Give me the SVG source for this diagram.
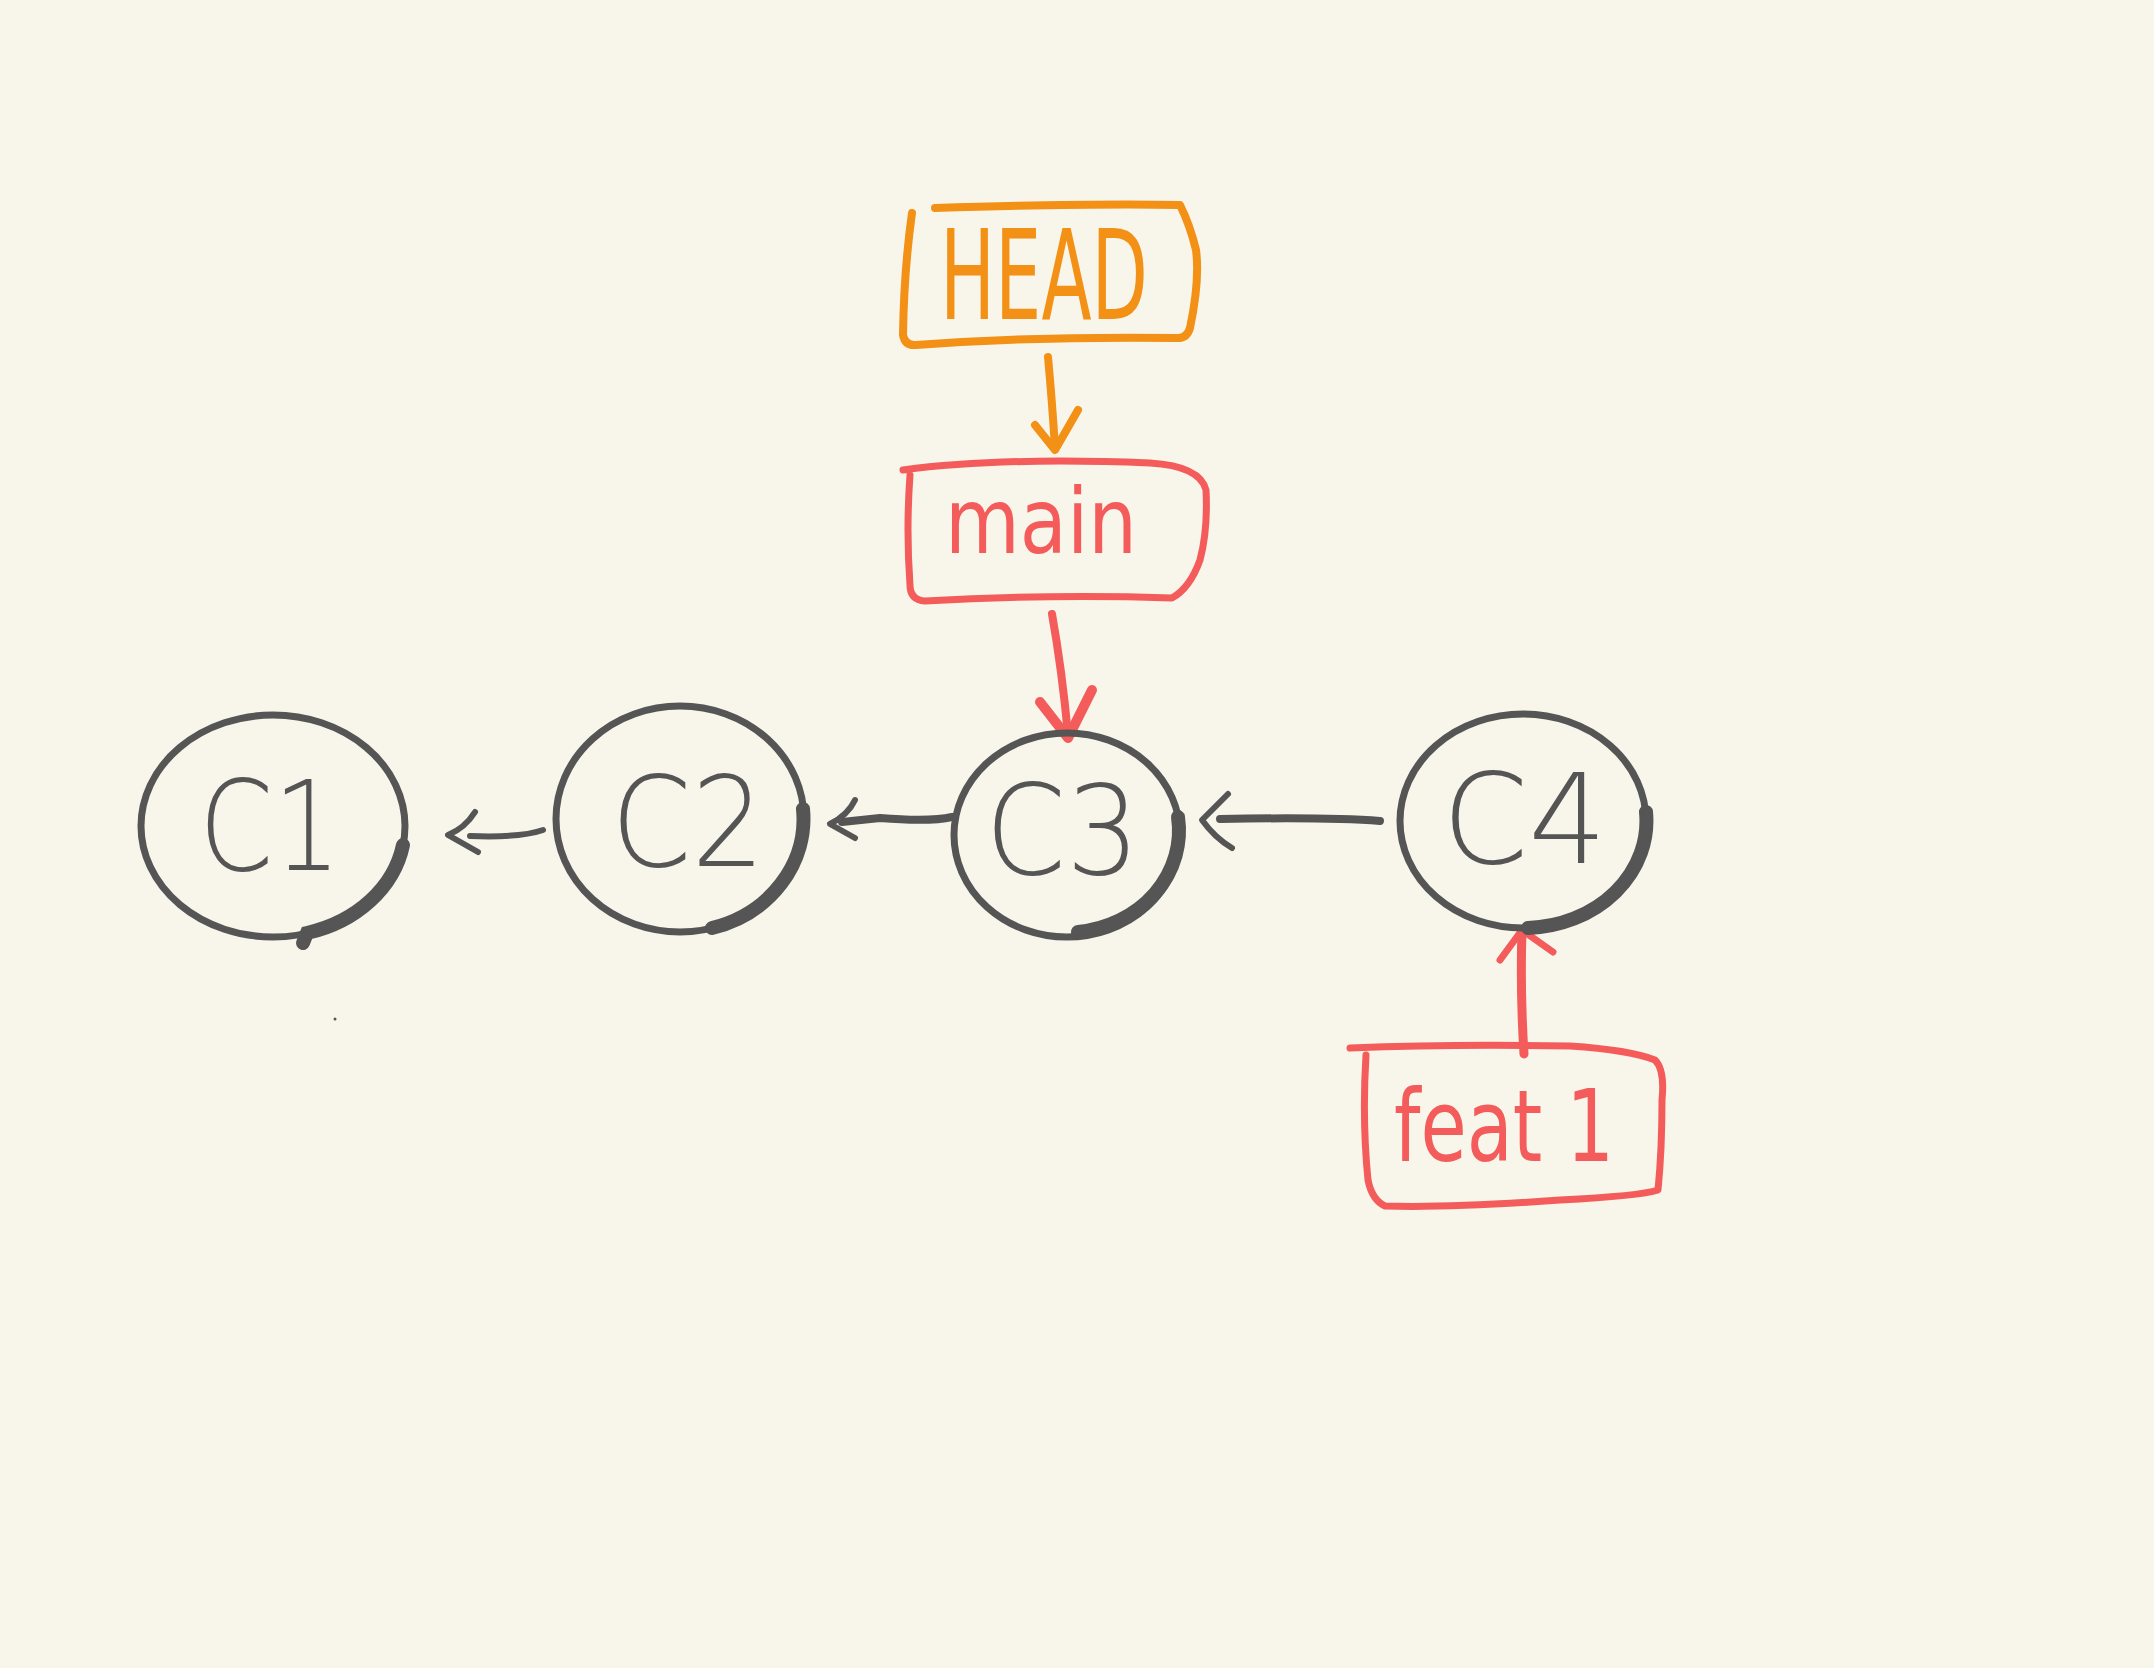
<svg xmlns="http://www.w3.org/2000/svg" width="2154" height="1668" viewBox="0 0 2154 1668">
<style>
.bg{fill:#F8F6EA}
.node{fill:none;stroke:#555555;stroke-width:7;stroke-linecap:round}
.heavy{fill:none;stroke:#555555;stroke-width:14;stroke-linecap:round}
.ntext{font-family:"DejaVu Sans","Liberation Sans",sans-serif;font-size:125px;fill:#555555;font-weight:300}
.orange{fill:none;stroke:#F39016;stroke-width:8;stroke-linecap:round;stroke-linejoin:round}
.red{fill:none;stroke:#F35C5A;stroke-width:7;stroke-linecap:round;stroke-linejoin:round}
.otext{font-family:"DejaVu Sans","Liberation Sans",sans-serif;font-size:125px;fill:#F39016}
.rtext{font-family:"DejaVu Sans","Liberation Sans",sans-serif;font-size:90px;fill:#F35C5A}
.gline{fill:none;stroke:#555555;stroke-width:6;stroke-linecap:round;stroke-linejoin:round}
</style>
<rect class="bg" x="0" y="0" width="2154" height="1668"/>
<g id="connectors">
  <path class="orange" d="M1048 357 Q1052 400 1055 448"/>
  <path class="orange" d="M1035 425 L1055 450 L1078 410"/>
  <path class="red" d="M1052 614 Q1062 670 1068 735" style="stroke-width:8"/>
  <path class="red" d="M1040 702 L1068 738 L1092 690" style="stroke-width:10"/>
  <path class="gline" d="M543 830 Q520 838 470 836"/>
  <path class="gline" d="M475 812 Q465 828 448 835 L478 852"/>
  <path class="gline" d="M952 817 Q930 822 880 818 L842 822" style="stroke-width:8"/>
  <path class="gline" d="M855 800 Q848 815 830 824 L855 838"/>
  <path class="gline" d="M1380 821 Q1330 817 1220 819" style="stroke-width:8"/>
  <path class="gline" d="M1228 794 L1202 820 Q1215 838 1232 848"/>
  <path class="red" d="M1524 1054 Q1520 990 1522 930" style="stroke-width:9"/>
  <path class="red" d="M1500 960 L1522 930 L1553 952"/>
</g>
<g id="HEAD">
  <path class="orange" d="M912 213 Q904 270 903 335 Q905 346 916 345 Q1040 336 1178 338 Q1187 338 1190 328 Q1200 280 1196 250 Q1190 225 1180 205 Q1100 203 935 208"/>
  <text class="otext" x="940" y="319" textLength="208" lengthAdjust="spacingAndGlyphs">HEAD</text>
</g>
<g id="main">
  <path class="red" d="M903 470 Q1000 457 1150 463 Q1200 466 1206 490 Q1208 530 1200 560 Q1190 588 1172 598 Q1050 594 925 601 Q910 600 910 585 Q906 530 910 475"/>
  <text class="rtext" x="945" y="553" textLength="192" lengthAdjust="spacingAndGlyphs">main</text>
</g>
<g id="C1">
  <ellipse class="node" cx="273" cy="826" rx="132" ry="111"/>
  <path class="heavy" d="M403 845 A132 111 0 0 1 307 933 L303 943"/>
  <text class="ntext" x="199" y="870" textLength="142" lengthAdjust="spacingAndGlyphs">C1</text>
</g>
<g id="C2">
  <ellipse class="node" cx="680" cy="819" rx="124" ry="113"/>
  <path class="heavy" d="M803 809 A124 113 0 0 1 712 928"/>
  <text class="ntext" x="611" y="866" textLength="154" lengthAdjust="spacingAndGlyphs">C2</text>
</g>
<g id="C3">
  <ellipse class="node" cx="1067" cy="835" rx="113" ry="102"/>
  <path class="heavy" d="M1178 817 A113 102 0 0 1 1078 932"/>
  <text class="ntext" x="985" y="874" textLength="155" lengthAdjust="spacingAndGlyphs">C3</text>
</g>
<g id="C4">
  <ellipse class="node" cx="1523" cy="821" rx="123" ry="107"/>
  <path class="heavy" d="M1646 812 A123 107 0 0 1 1528 928"/>
  <text class="ntext" x="1442" y="863" textLength="165" lengthAdjust="spacingAndGlyphs">C4</text>
</g>
<g id="feat1">
  <path class="red" d="M1350 1048 Q1450 1044 1570 1046 Q1630 1050 1655 1060 Q1665 1070 1662 1100 Q1662 1150 1658 1190 Q1640 1196 1560 1200 Q1450 1208 1385 1206 Q1372 1200 1368 1180 Q1362 1120 1366 1055"/>
  <text class="rtext" x="1394" y="1161" textLength="220" lengthAdjust="spacingAndGlyphs" style="font-size:100px">feat 1</text>
</g>
<circle cx="335" cy="1019" r="1.5" fill="#555555"/>
</svg>
